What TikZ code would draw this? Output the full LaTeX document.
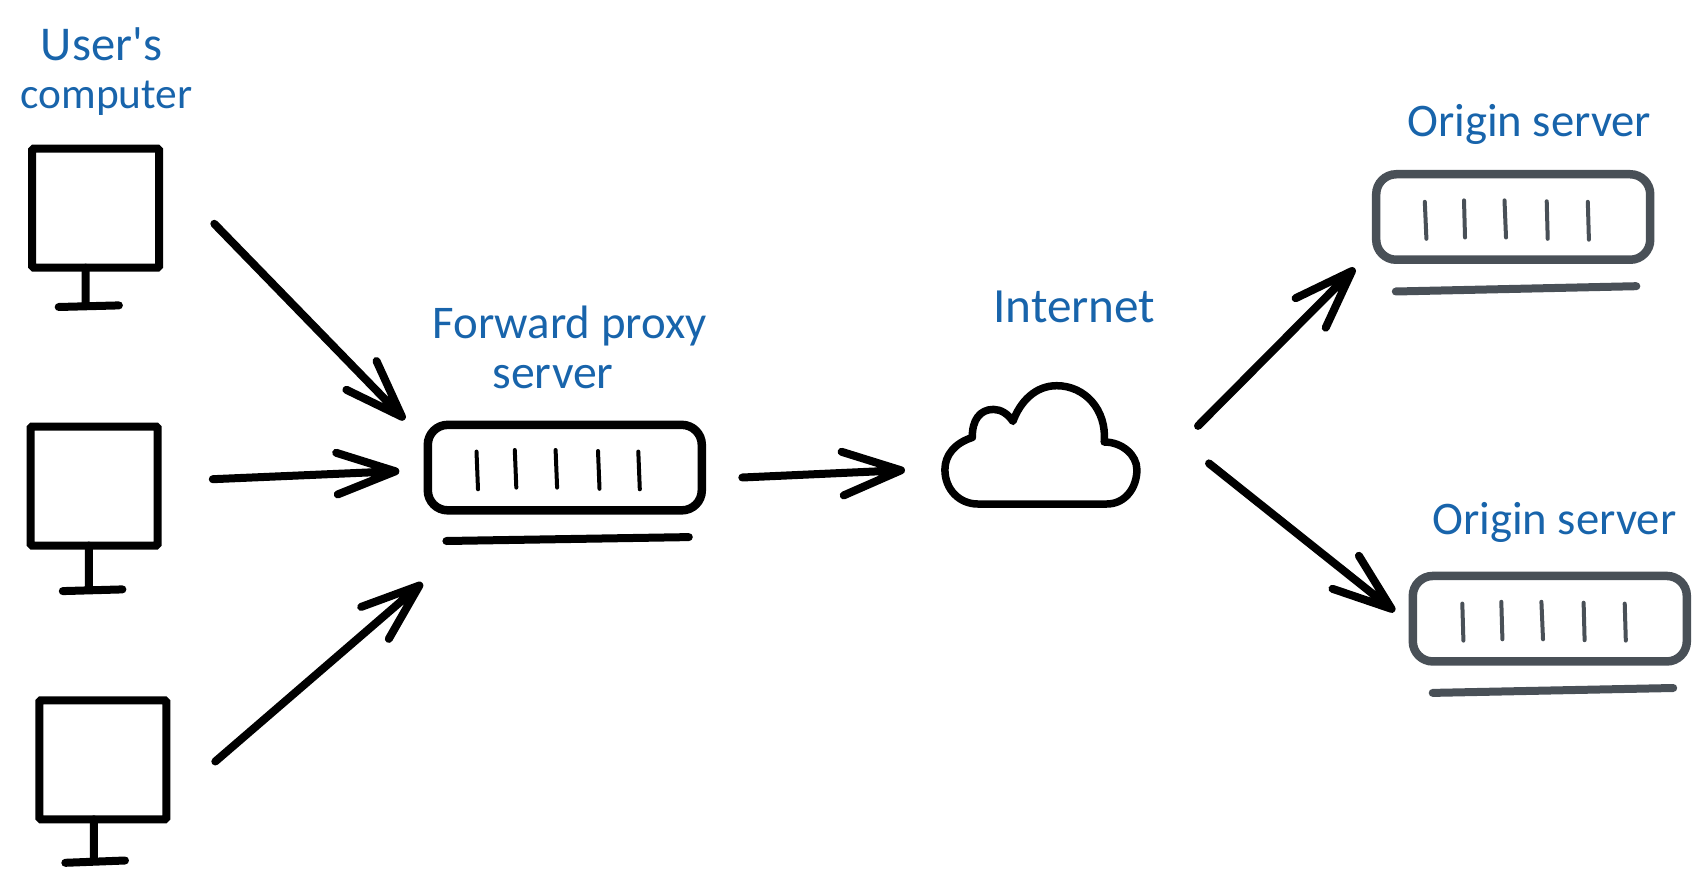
\documentclass[tikz,border=0pt]{standalone}
\usepackage{fontspec}
\newfontfamily\lblfont{Carlito}
\definecolor{lbl}{HTML}{1864AB}
\definecolor{srv}{HTML}{495057}
\newcommand{\lbltext}[2]{\resizebox{#1pt}{!}{\lblfont\fontsize{40}{40}\selectfont #2}}
\tikzset{
  x=1pt,y=-1pt,
  screen/.style={draw=black,line width=8pt,rectangle,inner sep=0pt,outer sep=0pt,minimum width=127pt,minimum height=119pt,fill=white,rounded corners=1.5pt},
  stand/.style={draw=black,line width=8pt,line cap=round},
  conn/.style={draw=black,line width=8pt,line cap=round,line join=round},
  rack/.style={rectangle,inner sep=0pt,outer sep=0pt,line width=8.5pt,rounded corners=20pt,minimum width=274pt,minimum height=85.5pt},
  bar/.style={line width=4pt,line cap=round},
  foot/.style={line width=8pt,line cap=round},
  lab/.style={text=lbl,anchor=base,inner sep=0pt},
}
\begin{document}
\begin{tikzpicture}
\useasboundingbox (0,0) rectangle (1707,882);
% labels
\node[lab] (tuser) at (101.5,60.4) {\lbltext{121}{User's}};
\node[lab] (tcomp) at (106.6,108.7) {\lbltext{172}{computer}};
\node[lab] (tfwd) at (569.6,338.3) {\lbltext{274}{Forward proxy}};
\node[lab] (tsrv) at (553,388.9) {\lbltext{121}{server}};
\node[lab] (tnet) at (1074.3,323) {\lbltext{162}{Internet}};
\node[lab] (torg1) at (1529.2,137) {\lbltext{244}{Origin server}};
\node[lab] (torg2) at (1554.3,534.8) {\lbltext{244}{Origin server}};
% computers
\node[screen] (c1) at (95.6,208.1) {};
\node[screen] (c2) at (94.1,486) {};
\node[screen] (c3) at (102.8,759.8) {};
\coordinate (c1l) at (58.7,307); \coordinate (c1r) at (118.9,305.4); \coordinate (c1m) at (85.7,306);
\coordinate (c2l) at (62.8,591.1); \coordinate (c2r) at (122.4,589.4); \coordinate (c2m) at (88.8,590);
\coordinate (c3l) at (65.3,862.8); \coordinate (c3r) at (125,860.5); \coordinate (c3m) at (93.9,861.5);
\draw[stand] (c1.south -| c1m) -- (c1m) (c1l) -- (c1r);
\draw[stand] (c2.south -| c2m) -- (c2m) (c2l) -- (c2r);
\draw[stand] (c3.south -| c3m) -- (c3m) (c3l) -- (c3r);
% proxy
\node[rack,draw=black] (proxy) at (564.8,467.6) {};
\draw[bar] (476.5,451.6) -- (478,489.3) (514.8,450) -- (516.3,487.6) (555.6,450) -- (557.1,487.6) (598,451) -- (599.5,488.8) (638.3,451.6) -- (639.8,489.3);
\draw[foot] (446.4,541) -- (688.8,537.1);
% cloud
\node[inner sep=0pt,minimum size=0pt] (cloud) at (1041,445) {};
\draw[line width=7.5pt,line join=round,black]
 (977.6,504) -- (1106.8,504)
 .. controls (1125,504) and (1136.9,488) .. (1136.9,469.6)
 .. controls (1136.9,455) and (1122,442) .. (1104.2,442)
 .. controls (1107,410) and (1085,385.7) .. (1056.7,385.7)
 .. controls (1035,385.7) and (1020,402) .. (1012.9,421.4)
 .. controls (1008,414) and (1001,409.4) .. (993.4,409.4)
 .. controls (980,409.4) and (972,420) .. (972.3,437.5)
 .. controls (955,443) and (944.9,455) .. (944.9,469.6)
 .. controls (944.9,490) and (960,504) .. (977.6,504) -- cycle;
% origin servers
\node[rack,draw=srv] (o1) at (1513.2,217) {};
\draw[bar,srv] (1424.8,201.8) -- (1426.4,238.8) (1464,200.4) -- (1465,237.5) (1504.5,200.4) -- (1506,237.5) (1546.7,201.3) -- (1547.7,238.8) (1587.8,201.8) -- (1588.9,239.7);
\draw[foot,srv] (1395.8,291.5) -- (1636.3,286.2);
\node[rack,draw=srv] (o2) at (1549.8,618.7) {};
\draw[bar,srv] (1462.3,603.6) -- (1463.4,640.6) (1501.3,601.8) -- (1502.4,639.3) (1541.4,601.8) -- (1543,639.3) (1583.6,602.7) -- (1584.6,640.2) (1624.7,603.6) -- (1625.8,640.6);
\draw[foot,srv] (1432.7,692.9) -- (1673.2,688);
% connector ends
\coordinate (a1s) at (214.3,223.8); \coordinate (a1e) at (402,416.8);
\coordinate (a1p) at (376.5,361); \coordinate (a1q) at (346.4,389.8);
\coordinate (a2s) at (212.8,479.2); \coordinate (a2e) at (395.4,471.3);
\coordinate (a2p) at (336.2,452.8); \coordinate (a2q) at (337.8,494.4);
\coordinate (a3s) at (215.3,761.5); \coordinate (a3e) at (419.4,585.5);
\coordinate (a3p) at (361.2,606.9); \coordinate (a3q) at (388.8,638.9);
\coordinate (a4s) at (742.3,477.5); \coordinate (a4e) at (901,470.3);
\coordinate (a4p) at (841.6,451.8); \coordinate (a4q) at (843.7,495.4);
\coordinate (a5s) at (1198,425.9); \coordinate (a5e) at (1352,271);
\coordinate (a5p) at (1295.6,298.2); \coordinate (a5q) at (1325.7,327.7);
\coordinate (a6s) at (1209,463.4); \coordinate (a6e) at (1391.6,608.9);
\coordinate (a6p) at (1358.9,555.8); \coordinate (a6q) at (1332.5,588.8);
\foreach \n in {a1,a2,a3,a4,a5,a6}{
  \draw[conn] (\n s) -- (\n e) (\n p) -- (\n e) -- (\n q);
}
\end{tikzpicture}
\end{document}
